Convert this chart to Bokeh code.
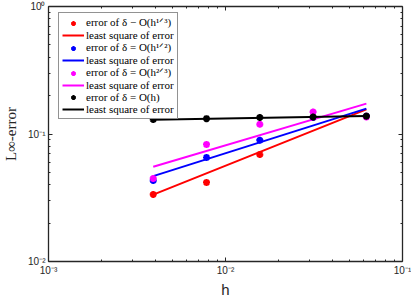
from bokeh.plotting import figure
from bokeh.models import LogAxis, FixedTicker, CustomJSTickFormatter, Legend, LegendItem
from bokeh.embed import file_html
from bokeh.resources import INLINE

# ---- data ----
h = [0.00390625, 0.0078125, 0.015625, 0.03125, 0.0625]
err_third = [0.0336, 0.0417, 0.069, 0.135, 0.138]
err_half = [0.0431, 0.0654, 0.0894, 0.135, 0.138]
err_twothird = [0.0448, 0.0828, 0.119, 0.149, 0.136]
err_one = [0.130, 0.132, 0.135, 0.136, 0.138]

h_fit = [0.00390625, 0.0625]
fit_third = [0.0335, 0.156]
fit_half = [0.0467, 0.158]
fit_twothird = [0.0553, 0.173]
fit_one = [0.1295, 0.1385]

labels_err = ["error of δ − O(h¹ᐟ³)", "error of δ = O(h¹ᐟ²)",
              "error of δ = O(h²ᐟ³)", "error of δ = O(h)"]
label_fit = "least square of error"

x_major = [0.001, 0.01, 0.1]
x_minor = [0.002, 0.003, 0.004, 0.005, 0.006, 0.007, 0.008, 0.009,
           0.02, 0.03, 0.04, 0.05, 0.06, 0.07, 0.08, 0.09]
y_major = [0.01, 0.1, 1.0]
y_minor = [0.02, 0.03, 0.04, 0.05, 0.06, 0.07, 0.08, 0.09,
           0.2, 0.3, 0.4, 0.5, 0.6, 0.7, 0.8, 0.9]

AX = "#262626"
fmt_code = """
const e = Math.round(Math.log10(tick));
const sup = {"-":"\u207b","0":"\u2070","1":"\u00b9","2":"\u00b2","3":"\u00b3",
             "4":"\u2074","5":"\u2075","6":"\u2076","7":"\u2077","8":"\u2078","9":"\u2079"};
return "10" + String(e).split("").map(c => sup[c]).join("");
"""

p = figure(frame_width=354, frame_height=255, x_axis_type="log", y_axis_type="log",
           x_range=(1e-3, 1e-1), y_range=(1e-2, 1.0),
           output_backend="svg", toolbar_location=None,
           min_border_left=46, min_border_right=9, min_border_top=6, min_border_bottom=45)
p.grid.visible = False
p.outline_line_color = None
p.background_fill_color = "white"


def style_axis(ax, ticks, minors, show_labels=True):
    ax.ticker = FixedTicker(ticks=ticks, minor_ticks=minors)
    ax.axis_line_color = AX
    ax.axis_line_width = 1.3
    ax.major_tick_line_color = AX
    ax.minor_tick_line_color = AX
    ax.major_tick_in = 4
    ax.major_tick_out = 0
    ax.minor_tick_in = 2
    ax.minor_tick_out = 0
    ax.major_label_text_font = "Liberation Sans"
    ax.major_label_text_color = AX
    ax.major_label_text_font_size = "10px"
    if show_labels:
        ax.formatter = CustomJSTickFormatter(code=fmt_code)
        ax.major_label_standoff = 3
    else:
        ax.formatter = CustomJSTickFormatter(code="return '';")
        ax.major_label_standoff = 0


xa = p.xaxis[0]
ya = p.yaxis[0]
style_axis(xa, x_major, x_minor)
style_axis(ya, y_major, y_minor)
xa.axis_label = "h"
xa.axis_label_text_font = "Liberation Sans"
xa.axis_label_text_font_size = "15px"
xa.axis_label_text_font_style = "normal"
xa.axis_label_text_color = AX
xa.axis_label_standoff = 2
ya.axis_label = "L∞-error"
ya.axis_label_text_font = "Liberation Serif"
ya.axis_label_text_font_size = "15px"
ya.axis_label_text_font_style = "normal"
ya.axis_label_text_color = AX
ya.axis_label_standoff = 6

top_ax = LogAxis()
style_axis(top_ax, x_major, x_minor, show_labels=False)
p.add_layout(top_ax, "above")
right_ax = LogAxis()
style_axis(right_ax, y_major, y_minor, show_labels=False)
p.add_layout(right_ax, "right")

series = [
    (err_third, fit_third, "red"),
    (err_half, fit_half, "blue"),
    (err_twothird, fit_twothird, "magenta"),
    (err_one, fit_one, "black"),
]
items = []
for (err, fit, col), lab in zip(series, labels_err):
    r_pts = p.scatter(h, err, marker="asterisk", size=7, line_color=col, line_width=2.2)
    r_fit = p.line(h_fit, fit, line_color=col, line_width=2)
    items.append(LegendItem(label=lab, renderers=[r_pts]))
    items.append(LegendItem(label=label_fit, renderers=[r_fit]))

legend = Legend(items=items, location=(10, 142))
legend.label_text_font = "Liberation Serif"
legend.label_text_font_size = "11px"
legend.label_text_color = "black"
legend.label_height = 12
legend.glyph_height = 12
legend.glyph_width = 22
legend.label_standoff = 2
legend.spacing = 0
legend.padding = 3
legend.margin = 0
legend.border_line_color = AX
legend.border_line_width = 1.3
legend.background_fill_alpha = 1.0
p.add_layout(legend, "center")

open("out.html", "w").write(file_html(p, INLINE))
